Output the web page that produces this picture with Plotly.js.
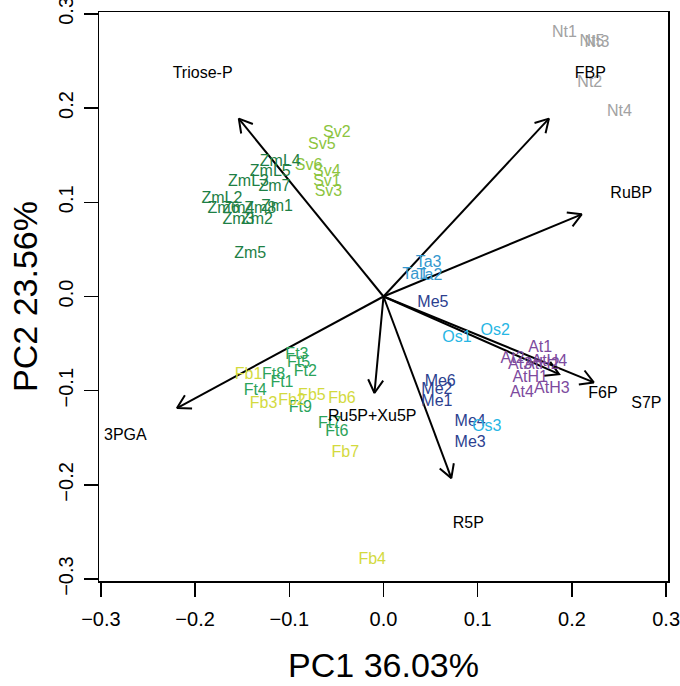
<!DOCTYPE html>
<html>
<head>
<meta charset="utf-8">
<script src="https://cdn.plot.ly/plotly-3.0.1.min.js"></script>
<style>html,body{margin:0;padding:0;background:#fff}#chart{width:680px;height:686px}</style>
</head>
<body>
<div id="chart"></div>
<script>
// Variable loadings (label positions; arrows drawn to 0.8 x loading, as in R biplot)
var varNames = ['Triose-P','FBP','RuBP','F6P','S7P','R5P','Ru5P+Xu5P','3PGA'];
var varX = [-0.192, 0.2195, 0.263, 0.233, 0.279, 0.090, -0.012, -0.274];
var varY = [0.236, 0.236, 0.109, -0.103, -0.114, -0.241, -0.128, -0.148];

// Sample scores by group
var ntNames = ['Nt1','Nt2','Nt3','Nt4','Nt5'];
var ntX = [0.192, 0.219, 0.2265, 0.2505, 0.2212];
var ntY = [0.2795, 0.2264, 0.2689, 0.1962, 0.2706];

var svNames = ['Sv1','Sv2','Sv3','Sv4','Sv5','Sv6'];
var svX = [-0.060, -0.0495, -0.0584, -0.0601, -0.0654, -0.0796];
var svY = [0.1213, 0.1739, 0.1113, 0.1325, 0.1609, 0.1386];

var zmNames = ['ZmL2','ZmL3','ZmL4','ZmL5','Zm1','Zm2','Zm3','Zm4','Zm5','Zm6','Zm7','Zm8'];
var zmX = [-0.1715, -0.1433, -0.1096, -0.1202, -0.1131, -0.1344, -0.1539, -0.1539, -0.1415, -0.1698, -0.1157, -0.1308];
var zmY = [0.1032, 0.1213, 0.1431, 0.1319, 0.0947, 0.0812, 0.0812, 0.0926, 0.0451, 0.0926, 0.1166, 0.0926];

var ftNames = ['Ft1','Ft2','Ft3','Ft4','Ft5','Ft6','Ft7','Ft8','Ft9'];
var ftX = [-0.1078, -0.0831, -0.0919, -0.1362, -0.0902, -0.0495, -0.0573, -0.1167, -0.0884];
var ftY = [-0.0915, -0.0799, -0.0621, -0.100, -0.0703, -0.1436, -0.1354, -0.0834, -0.1187];

var fbNames = ['Fb1','Fb2','Fb3','Fb4','Fb5','Fb6','Fb7'];
var fbX = [-0.1433, -0.0972, -0.1273, -0.012, -0.076, -0.0441, -0.0406];
var fbY = [-0.0834, -0.1106, -0.1142, -0.280, -0.1057, -0.1092, -0.1659];

var taNames = ['Ta1','Ta2','Ta3'];
var taX = [0.0336, 0.0488, 0.0478];
var taY = [0.0228, 0.0218, 0.0359];

var meNames = ['Me1','Me2','Me3','Me4','Me5','Me6'];
var meX = [0.0567, 0.0567, 0.092, 0.092, 0.0524, 0.0602];
var meY = [-0.1117, -0.0993, -0.1552, -0.133, -0.0072, -0.0905];

var osNames = ['Os1','Os2','Os3'];
var osX = [0.0779, 0.1185, 0.1097];
var osY = [-0.0444, -0.0363, -0.1389];

var atNames = ['At1','At2','At3','At4','AtH1','AtH2','AtH3','AtH4'];
var atX = [0.1663, 0.137, 0.145, 0.1469, 0.1557, 0.168, 0.1787, 0.176];
var atY = [-0.055, -0.066, -0.073, -0.1021, -0.0869, -0.073, -0.0986, -0.070];

var tickVals = [-0.3, -0.2, -0.1, 0.0, 0.1, 0.2, 0.3];
var tickText = ['\u22120.3','\u22120.2','\u22120.1','0.0','0.1','0.2','0.3'];

var FONT = 'Liberation Sans, Arial, Helvetica, sans-serif';
var LABEL_SIZE = 16;

var groups = [
  [ntNames, ntX, ntY, '#A2A2A2'],
  [svNames, svX, svY, '#8CC43E'],
  [zmNames, zmX, zmY, '#1E7F45'],
  [ftNames, ftX, ftY, '#2BA35A'],
  [fbNames, fbX, fbY, '#D3DA3E'],
  [taNames, taX, taY, '#3598CE'],
  [meNames, meX, meY, '#2C3F90'],
  [osNames, osX, osY, '#27B6E4'],
  [atNames, atX, atY, '#7D4A9E']
];

var traces = [];

// arrows: shafts and open heads
var SCALE = 0.8, HEAD = 0.016, ANG = 30 * Math.PI / 180;
var ax = [], ay = [];
for (var i = 0; i < varNames.length; i++) {
  var tx = varX[i] * SCALE, ty = varY[i] * SCALE;
  ax.push(0, tx, null);
  ay.push(0, ty, null);
  var th = Math.atan2(ty, tx);
  ax.push(tx - HEAD * Math.cos(th - ANG), tx, tx - HEAD * Math.cos(th + ANG), null);
  ay.push(ty - HEAD * Math.sin(th - ANG), ty, ty - HEAD * Math.sin(th + ANG), null);
}
traces.push({x: ax, y: ay, mode: 'lines', line: {color: '#000', width: 2}, hoverinfo: 'skip', showlegend: false});

groups.forEach(function (g) {
  traces.push({
    x: g[1], y: g[2], text: g[0], mode: 'text', textposition: 'middle center',
    textfont: {family: FONT, size: LABEL_SIZE, color: g[3]}, showlegend: false, hoverinfo: 'text'
  });
});

traces.push({
  x: varX, y: varY, text: varNames, mode: 'text', textposition: 'middle center',
  textfont: {family: FONT, size: LABEL_SIZE, color: '#000'}, showlegend: false, hoverinfo: 'text'
});

var axisCommon = {
  range: [-0.302, 0.302], tickvals: tickVals, ticktext: tickText,
  showgrid: false, zeroline: false, showline: true, mirror: true,
  linecolor: '#000', linewidth: 1.5, ticks: 'outside', ticklen: 14, tickwidth: 1.5, tickcolor: '#000',
  tickfont: {family: FONT, size: 20, color: '#000'}, fixedrange: true,
  ticklabeloverflow: 'allow', automargin: false
};

var layout = {
  width: 680, height: 686,
  margin: {l: 99, r: 12, t: 12, b: 105},
  paper_bgcolor: '#fff', plot_bgcolor: '#fff',
  font: {family: FONT, color: '#000'},
  xaxis: Object.assign({}, axisCommon, {ticklabelstandoff: 5,
    title: {text: 'PC1 36.03%', font: {family: FONT, size: 34, color: '#000'}, standoff: 24}}),
  yaxis: Object.assign({}, axisCommon, {tickangle: -90, ticklabelstandoff: 3,
    title: {text: 'PC2 23.56%', font: {family: FONT, size: 34, color: '#000'}, standoff: 6}}),
  showlegend: false
};

Plotly.newPlot('chart', traces, layout, {displayModeBar: false, staticPlot: true});
</script>
</body>
</html>
